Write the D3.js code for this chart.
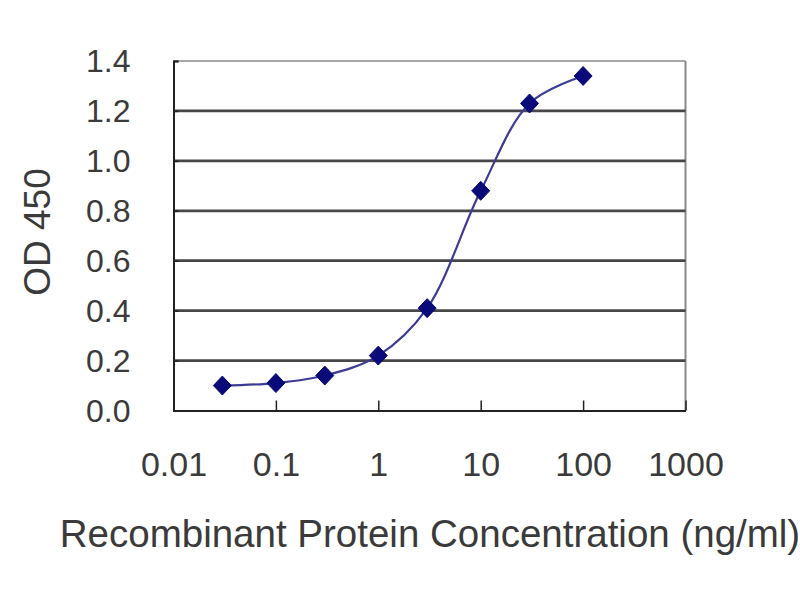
<!DOCTYPE html>
<html>
<head>
<meta charset="utf-8">
<script src="https://cdn.jsdelivr.net/npm/d3@7"></script>
<style>
  html, body { margin: 0; padding: 0; background: #fff; }
  svg { display: block; }
  text { font-family: "Liberation Sans", Arial, sans-serif; fill: #3a3a3a; }
</style>
</head>
<body>
<svg id="chart" width="800" height="600"></svg>
<script>
// Data
const concentrations = [0.03, 0.1, 0.3, 1, 3, 10, 30, 100];
const odValues = [0.10, 0.11, 0.14, 0.22, 0.41, 0.88, 1.23, 1.34];
const xTickValues = [0.01, 0.1, 1, 10, 100, 1000];
const xTickLabels = ["0.01", "0.1", "1", "10", "100", "1000"];
const yTickValues = [0, 0.2, 0.4, 0.6, 0.8, 1.0, 1.2, 1.4];
const yTickLabels = ["0.0", "0.2", "0.4", "0.6", "0.8", "1.0", "1.2", "1.4"];
const xTitle = "Recombinant Protein Concentration (ng/ml)";
const yTitle = "OD 450";

const svg = d3.select("#chart");
const plotL = 173.5, plotR = 685.5, plotT = 61, plotB = 410.5;

const x = d3.scaleLog().domain([0.01, 1000]).range([plotL, plotR]);
const y = d3.scaleLinear().domain([0, 1.4]).range([plotB, plotT]);

// Plot border (top & right lighter)
svg.append("line").attr("x1", plotL).attr("x2", plotR).attr("y1", plotT).attr("y2", plotT)
  .attr("stroke", "#a8a8a8").attr("stroke-width", 2);
svg.append("line").attr("x1", plotR).attr("x2", plotR).attr("y1", plotT).attr("y2", plotB)
  .attr("stroke", "#8a8a8a").attr("stroke-width", 2);

// Gridlines
svg.append("g").selectAll("line")
  .data(yTickValues.filter(v => v > 0 && v < 1.4))
  .join("line")
  .attr("x1", plotL).attr("x2", plotR)
  .attr("y1", d => y(d)).attr("y2", d => y(d))
  .attr("stroke", "#474747").attr("stroke-width", 2.8);

// Y axis
const yAxis = d3.axisLeft(y).tickValues(yTickValues).tickSize(-5)
  .tickFormat((d, i) => yTickLabels[i]);
const gy = svg.append("g").attr("transform", `translate(${plotL},0)`).call(yAxis);
gy.select(".domain").attr("stroke", "#222").attr("stroke-width", 2);
gy.selectAll(".tick line").attr("stroke", "#222").attr("stroke-width", 1.5);
gy.selectAll(".tick text")
  .attr("x", -43).attr("dy", "0.34em")
  .style("font-size", "32px").style("font-family", "'Liberation Sans', Arial, sans-serif")
  .attr("fill", "#3a3a3a");

// X axis (ticks inward)
const xAxis = d3.axisBottom(x).tickValues(xTickValues).tickSize(-10).tickSizeOuter(0)
  .tickFormat((d, i) => xTickLabels[i]);
const gx = svg.append("g").attr("transform", `translate(0,${plotB})`).call(xAxis);
gx.select(".domain").attr("stroke", "#222").attr("stroke-width", 2);
gx.selectAll(".tick line").attr("stroke", "#222").attr("stroke-width", 1.5);
gx.selectAll(".tick text")
  .attr("y", 65).attr("dy", 0)
  .style("font-size", "34px").style("font-family", "'Liberation Sans', Arial, sans-serif")
  .attr("fill", "#3a3a3a");

// Titles
svg.append("text").attr("x", 430).attr("y", 547).attr("text-anchor", "middle")
  .style("font-size", "38.5px").text(xTitle);
svg.append("text").attr("transform", "translate(50,232) rotate(-90)")
  .attr("text-anchor", "middle").style("font-size", "37px").text(yTitle);

// Series
const pts = concentrations.map((c, i) => ({ c, v: odValues[i] }));
const line = d3.line().x(d => x(d.c)).y(d => y(d.v)).curve(d3.curveCatmullRom.alpha(0.5));
svg.append("path").datum(pts).attr("d", line)
  .attr("fill", "none").attr("stroke", "#3c3c96").attr("stroke-width", 2.2);

svg.append("g").selectAll("path").data(pts).join("path")
  .attr("transform", d => `translate(${x(d.c)},${y(d.v)})`)
  .attr("d", "M0,-9.5L9,0L0,9.5L-9,0Z")
  .attr("fill", "#0a0a78").attr("stroke", "#0a0a78").attr("stroke-width", 1);
</script>
</body>
</html>
